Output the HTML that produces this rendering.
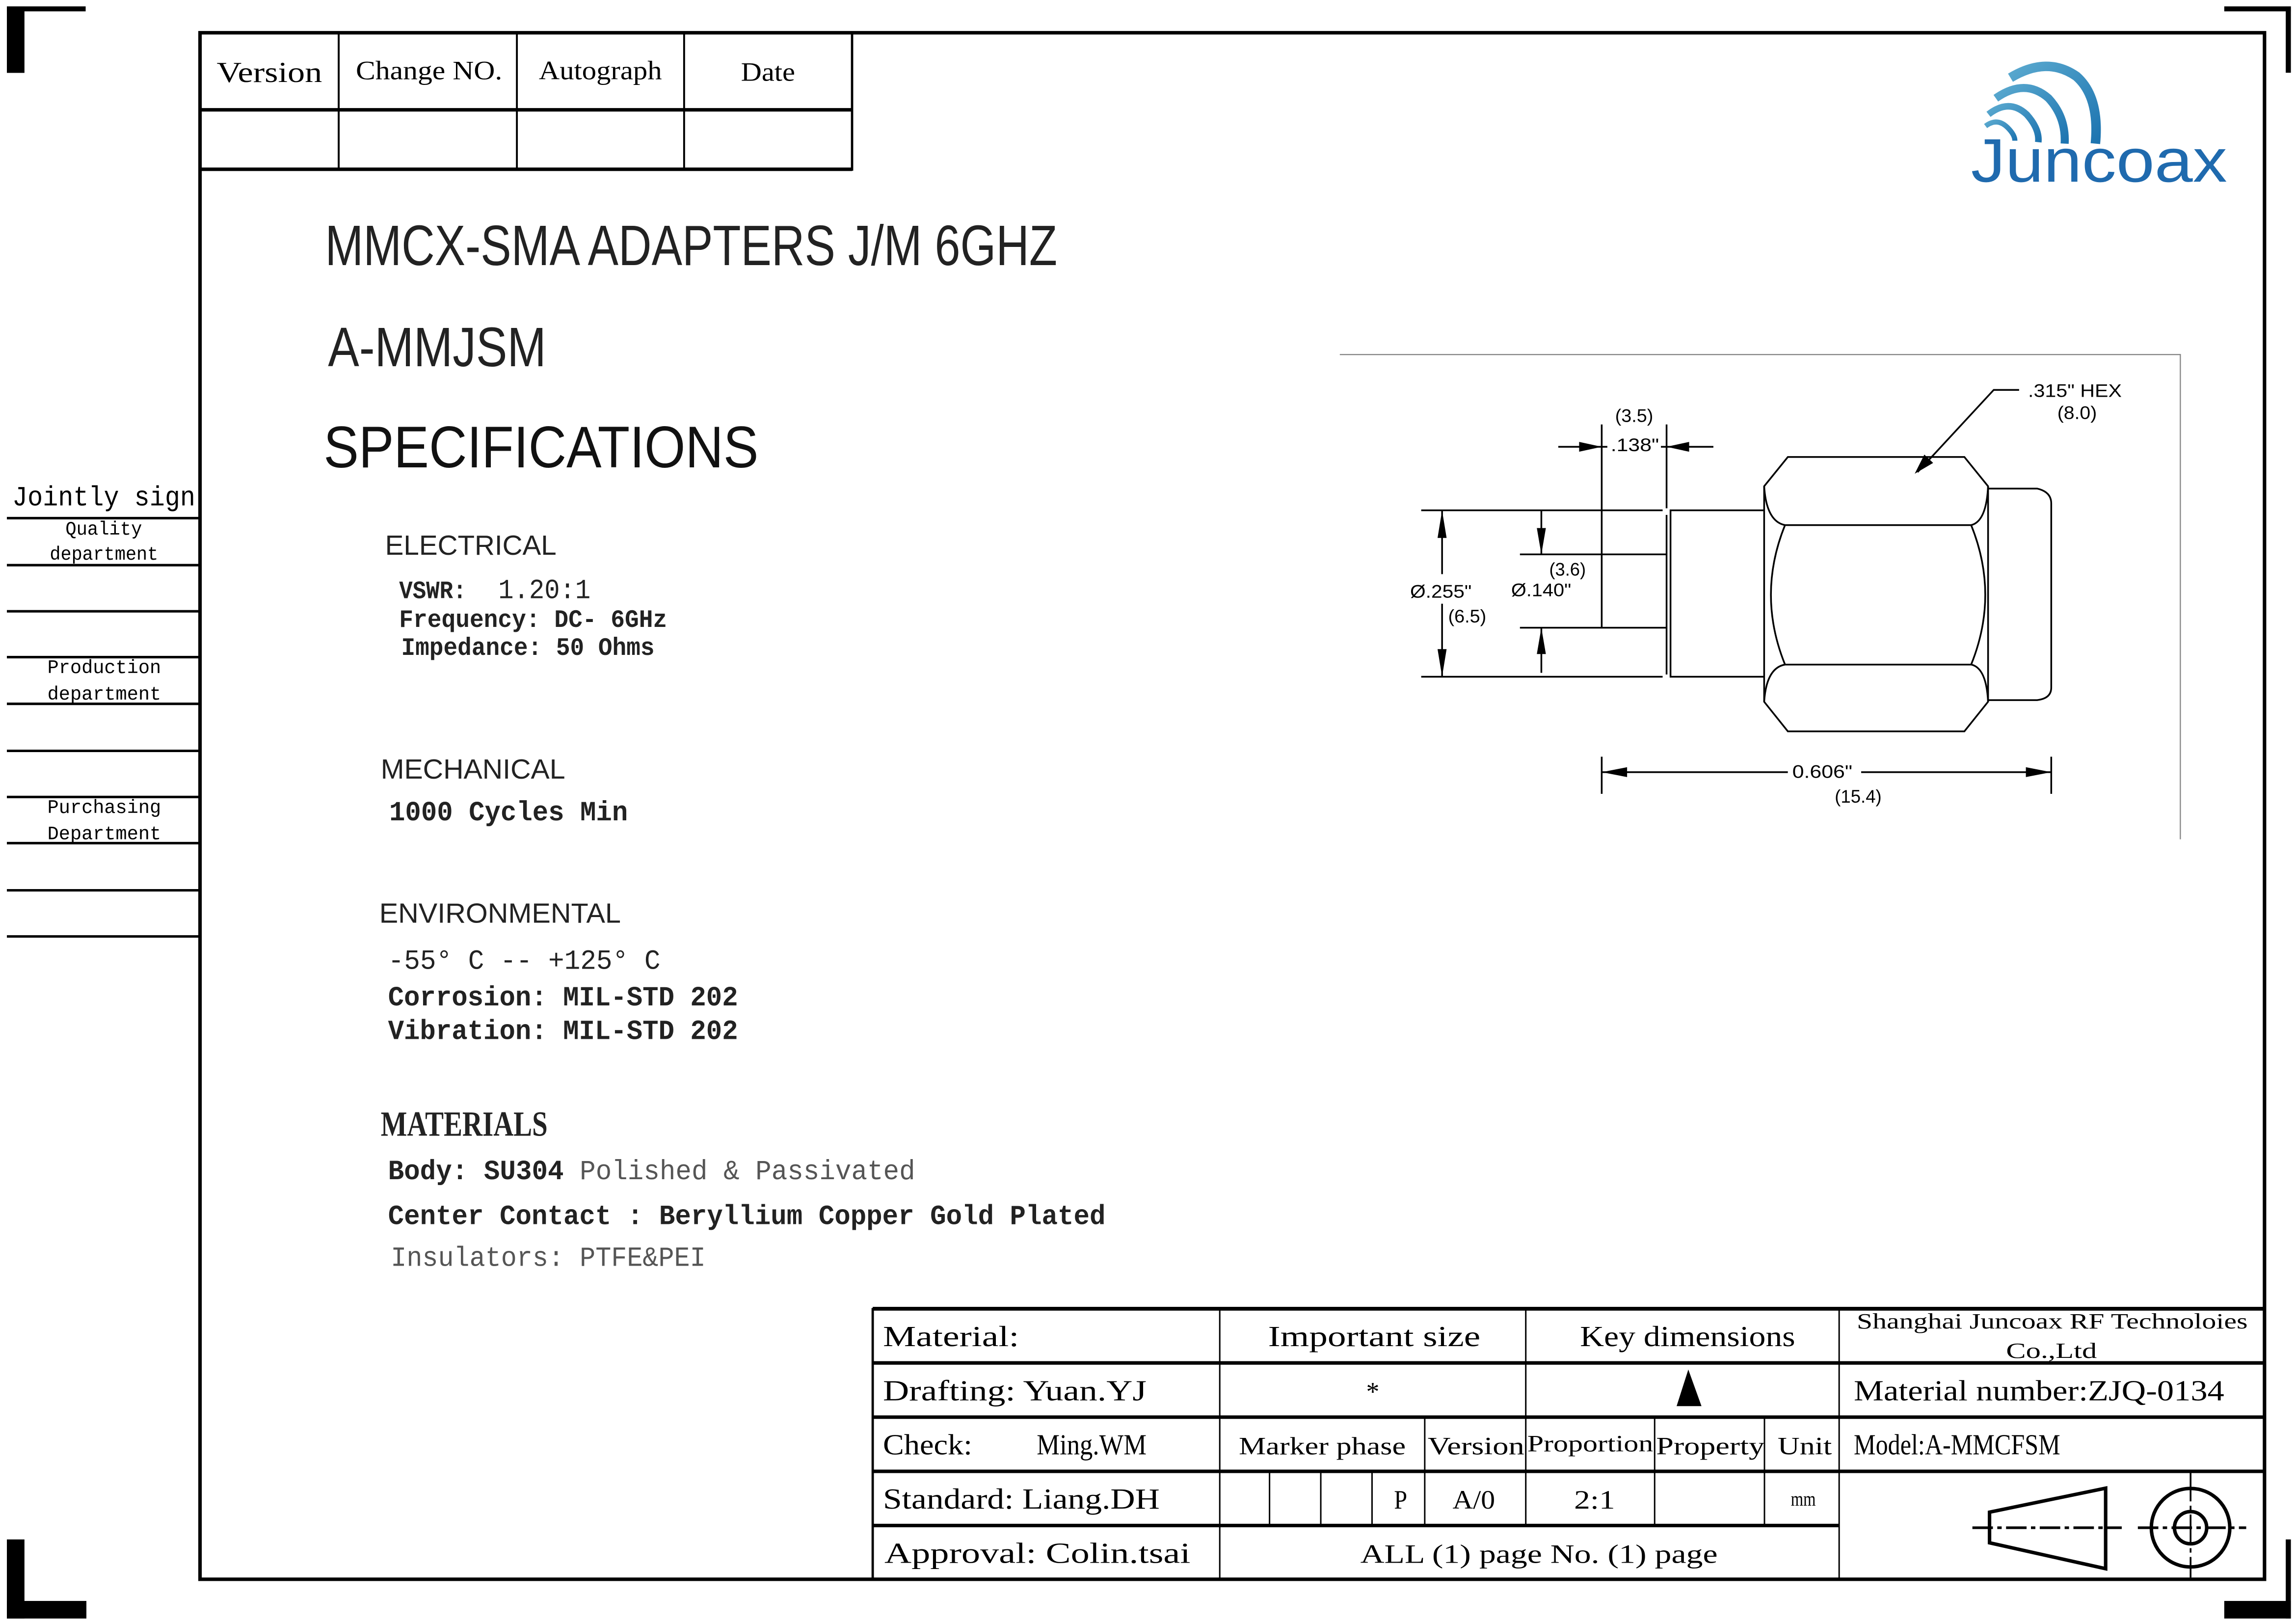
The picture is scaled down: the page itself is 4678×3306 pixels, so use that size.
<!DOCTYPE html>
<html><head><meta charset="utf-8"><style>
html,body{margin:0;padding:0;background:#fff;}
svg{display:block;}
.s{font-family:"Liberation Sans",sans-serif;}
.m{font-family:"Liberation Mono",monospace;}
.r{font-family:"Liberation Serif",serif;}
</style></head><body>
<svg width="4678" height="3306" viewBox="0 0 1568 1108" xmlns="http://www.w3.org/2000/svg">
<rect x="0" y="0" width="1568" height="1108" fill="#fff"/>
<rect x="4.7" y="4.3" width="12" height="45.4" fill="#000"/>
<rect x="4.7" y="4.3" width="53.8" height="3.4" fill="#000"/>
<rect x="1519" y="4.3" width="45.5" height="3.4" fill="#000"/>
<rect x="1561" y="4.3" width="3.5" height="45.3" fill="#000"/>
<rect x="4.7" y="1051" width="12" height="54" fill="#000"/>
<rect x="4.7" y="1093" width="54.3" height="12" fill="#000"/>
<rect x="1561" y="1051" width="3.5" height="54" fill="#000"/>
<rect x="1519" y="1093" width="45.5" height="12" fill="#000"/>
<rect x="136.6" y="22.3" width="1409.9" height="1055.9" fill="none" stroke="#000" stroke-width="2.4"/>
<g stroke="#000">
<line x1="136.6" y1="74.9" x2="582" y2="74.9" stroke-width="2.4"/>
<line x1="136.6" y1="115.5" x2="582" y2="115.5" stroke-width="2.4"/>
<line x1="231.3" y1="22" x2="231.3" y2="115.5" stroke-width="1.3"/>
<line x1="353" y1="22" x2="353" y2="115.5" stroke-width="1.3"/>
<line x1="467.2" y1="22" x2="467.2" y2="115.5" stroke-width="1.3"/>
<line x1="581.9" y1="22" x2="581.9" y2="116.5" stroke-width="1.6"/>
</g>
<g class="r" fill="#000">
<text x="148" y="56" font-size="20" textLength="72" lengthAdjust="spacingAndGlyphs">Version</text>
<text x="243" y="54" font-size="18" textLength="100" lengthAdjust="spacingAndGlyphs">Change    NO.</text>
<text x="368" y="54" font-size="18" textLength="84" lengthAdjust="spacingAndGlyphs">Autograph</text>
<text x="506" y="55" font-size="18" textLength="37" lengthAdjust="spacingAndGlyphs">Date</text>
</g>
<g stroke="#000" stroke-width="1.7">
<line x1="4.7" y1="353.7" x2="137" y2="353.7"/><line x1="4.7" y1="385.8" x2="137" y2="385.8"/>
<line x1="4.7" y1="417.3" x2="137" y2="417.3"/><line x1="4.7" y1="448.6" x2="137" y2="448.6"/>
<line x1="4.7" y1="480.5" x2="137" y2="480.5"/><line x1="4.7" y1="512.6" x2="137" y2="512.6"/>
<line x1="4.7" y1="544.1" x2="137" y2="544.1"/><line x1="4.7" y1="575.6" x2="137" y2="575.6"/>
<line x1="4.7" y1="607.8" x2="137" y2="607.8"/><line x1="4.7" y1="639.3" x2="137" y2="639.3"/>
</g>
<g class="m" fill="#000">
<text x="8.4" y="345" font-size="19" textLength="125" lengthAdjust="spacingAndGlyphs">Jointly sign</text>
<g font-size="13">
<text x="44.7" y="365" textLength="52.3" lengthAdjust="spacingAndGlyphs">Quality</text>
<text x="34" y="382" textLength="74" lengthAdjust="spacingAndGlyphs">department</text>
<text x="32.4" y="459.5" textLength="77.6" lengthAdjust="spacingAndGlyphs">Production</text>
<text x="32.4" y="477.5" textLength="77.6" lengthAdjust="spacingAndGlyphs">department</text>
<text x="32.4" y="555" textLength="77.6" lengthAdjust="spacingAndGlyphs">Purchasing</text>
<text x="32.4" y="573" textLength="77.6" lengthAdjust="spacingAndGlyphs">Department</text>
</g></g>
<defs><linearGradient id="lg" x1="0" y1="0" x2="1" y2="1"><stop offset="0" stop-color="#5aa9cf"/><stop offset="1" stop-color="#1d74b0"/></linearGradient></defs>
<g fill="none" stroke="url(#lg)" stroke-linecap="butt">
<path d="M1373,53 Q1398,38 1418,52 Q1434,66 1431,98" stroke-width="6.5"/>
<path d="M1363,67 Q1383,53 1399,67 Q1411,80 1410,98" stroke-width="5.5"/>
<path d="M1358,78 Q1372,67 1384,78 Q1393,88 1392,97" stroke-width="4.5"/>
<path d="M1356,86 Q1364,80 1371,87 Q1376,92 1376,96" stroke-width="3.5"/>
</g>
<text x="1346" y="124" class="s" font-size="42" fill="#1f6aae" textLength="175" lengthAdjust="spacingAndGlyphs">Juncoax</text>
<g class="s" fill="#222">
<text x="222" y="181" font-size="39" textLength="500" lengthAdjust="spacingAndGlyphs">MMCX-SMA ADAPTERS  J/M 6GHZ</text>
<text x="224" y="250" font-size="38" textLength="149" lengthAdjust="spacingAndGlyphs">A-MMJSM</text>
<text x="221" y="319" font-size="40" fill="#111" textLength="297" lengthAdjust="spacingAndGlyphs">SPECIFICATIONS</text>
<g font-size="19">
<text x="263" y="378.7" textLength="117" lengthAdjust="spacingAndGlyphs">ELECTRICAL</text>
<text x="260" y="531.5" textLength="126" lengthAdjust="spacingAndGlyphs">MECHANICAL</text>
<text x="259" y="630" textLength="165" lengthAdjust="spacingAndGlyphs">ENVIRONMENTAL</text>
</g></g>
<g class="m" fill="#222" font-weight="bold">
<text x="272.6" y="408.3" font-size="17" textLength="46" lengthAdjust="spacingAndGlyphs">VSWR:</text>
<text x="340.3" y="408.3" font-size="19" font-weight="normal" textLength="63" lengthAdjust="spacingAndGlyphs">1.20:1</text>
<text x="272.6" y="428" font-size="17" textLength="183" lengthAdjust="spacingAndGlyphs">Frequency: DC- 6GHz</text>
<text x="274" y="447" font-size="17" textLength="173" lengthAdjust="spacingAndGlyphs">Impedance: 50 Ohms</text>
<text x="265.8" y="560" font-size="19" textLength="163" lengthAdjust="spacingAndGlyphs">1000 Cycles Min</text>
<text x="265" y="661.5" font-size="19" font-weight="normal" textLength="186" lengthAdjust="spacingAndGlyphs">-55° C -- +125° C</text>
<text x="265" y="686.4" font-size="19" textLength="239" lengthAdjust="spacingAndGlyphs">Corrosion: MIL-STD 202</text>
<text x="265" y="709.4" font-size="19" textLength="239" lengthAdjust="spacingAndGlyphs">Vibration: MIL-STD 202</text>
<text x="265" y="805" font-size="19" textLength="360" lengthAdjust="spacingAndGlyphs">Body: SU304 <tspan fill="#555" font-weight="normal">Polished &amp; Passivated</tspan></text>
<text x="265" y="835.7" font-size="19" textLength="490" lengthAdjust="spacingAndGlyphs">Center Contact : Beryllium Copper Gold Plated</text>
<text x="266.9" y="864.2" font-size="19" fill="#555" font-weight="normal" textLength="215" lengthAdjust="spacingAndGlyphs">Insulators: PTFE&amp;PEI</text>
</g>
<text x="260" y="775.4" class="r" font-size="24" font-weight="bold" fill="#222" textLength="114" lengthAdjust="spacingAndGlyphs">MATERIALS</text>
<path d="M915,242 L1489,242 L1489,573" fill="none" stroke="#888" stroke-width="0.8"/>
<g transform="translate(905.1,234.7) scale(0.3852,0.2246)" fill="none" stroke="#000" stroke-width="3.5">
<path vector-effect="non-scaling-stroke" d="M778,433 L820,344 L1133,344 L1175,433 L1175,1088 L1133,1178 L820,1178 L778,1088 Z"/>
<path vector-effect="non-scaling-stroke" d="M778,433 Q782,540 815,551 L1145,551 Q1172,540 1175,433"/>
<path vector-effect="non-scaling-stroke" d="M815,551 Q765,763 815,975 M1145,551 Q1195,763 1145,975"/>
<path vector-effect="non-scaling-stroke" d="M778,1088 Q782,985 815,975 L1145,975 Q1172,985 1175,1088"/>
<path vector-effect="non-scaling-stroke" d="M1175,440 L1262,440 Q1287,450 1287,485 L1287,1045 Q1287,1078 1262,1083 L1175,1083"/>
<path vector-effect="non-scaling-stroke" d="M778,506 L612,506 L612,1012 L778,1012"/>
<path vector-effect="non-scaling-stroke" d="M605,245 L605,500 M605,520 L605,1005"/>
<path vector-effect="non-scaling-stroke" d="M490,245 L490,863 L345,863 M490,640 L345,640 M490,640 L605,640 M490,863 L605,863"/>
<path vector-effect="non-scaling-stroke" d="M170,506 L598,506 M170,1012 L598,1012"/>
<path vector-effect="non-scaling-stroke" d="M207,506 L207,700 M207,790 L207,1012 M383,506 L383,640 M383,863 L383,1000"/>
<path vector-effect="non-scaling-stroke" d="M413,313 L500,313 M595,313 L688,313"/>
<path vector-effect="non-scaling-stroke" d="M490,1302 L820,1302 M950,1302 L1287,1302 M490,1255 L490,1368 M1287,1255 L1287,1368"/>
<path vector-effect="non-scaling-stroke" d="M1230,140 L1185,140 L1050,390"/>
<g fill="#000" stroke="none">
<polygon points="207,506 199,590 215,590"/><polygon points="207,1012 199,928 215,928"/>
<polygon points="383,640 375,560 391,560"/><polygon points="383,863 375,943 391,943"/>
<polygon points="490,313 450,298 450,328"/><polygon points="605,313 645,298 645,328"/>
<polygon points="490,1302 535,1287 535,1317"/><polygon points="1287,1302 1242,1287 1242,1317"/>
</g>
</g>
<polygon points="1307.6,323.4 1320.2,316 1314.2,310.3" fill="#000"/>
<g class="s" fill="#000" font-size="12.5">
<text x="1385" y="271" textLength="64" lengthAdjust="spacingAndGlyphs">.315" HEX</text>
<text x="1405" y="286" textLength="27" lengthAdjust="spacingAndGlyphs">(8.0)</text>
<text x="1103" y="288" textLength="26" lengthAdjust="spacingAndGlyphs">(3.5)</text>
<text x="1100" y="308" textLength="33" lengthAdjust="spacingAndGlyphs">.138"</text>
<text x="1058" y="393" textLength="25" lengthAdjust="spacingAndGlyphs">(3.6)</text>
<text x="1032" y="407" textLength="41" lengthAdjust="spacingAndGlyphs">Ø.140"</text>
<text x="963" y="408" textLength="42" lengthAdjust="spacingAndGlyphs">Ø.255"</text>
<text x="989" y="425" textLength="26" lengthAdjust="spacingAndGlyphs">(6.5)</text>
<text x="1224" y="531" textLength="41" lengthAdjust="spacingAndGlyphs">0.606"</text>
<text x="1253" y="548" textLength="32" lengthAdjust="spacingAndGlyphs">(15.4)</text>
</g>
<g stroke="#000">
<line x1="596" y1="893.5" x2="1546.5" y2="893.5" stroke-width="2.6"/>
<line x1="596" y1="930.5" x2="1546.5" y2="930.5" stroke-width="2.4"/>
<line x1="596" y1="967.5" x2="1546.5" y2="967.5" stroke-width="2.4"/>
<line x1="596" y1="1004.5" x2="1546.5" y2="1004.5" stroke-width="2.4"/>
<line x1="596" y1="1041.5" x2="1256" y2="1041.5" stroke-width="2.4"/>
<line x1="596" y1="893" x2="596" y2="1078" stroke-width="1.6"/>
<line x1="833" y1="893" x2="833" y2="1078" stroke-width="1"/>
<line x1="1042" y1="893" x2="1042" y2="1041" stroke-width="1"/>
<line x1="1256" y1="893" x2="1256" y2="1078" stroke-width="1"/>
<line x1="973" y1="967" x2="973" y2="1041" stroke-width="1"/>
<line x1="1130" y1="967" x2="1130" y2="1041" stroke-width="1"/>
<line x1="1205" y1="967" x2="1205" y2="1041" stroke-width="1"/>
<line x1="867" y1="1004" x2="867" y2="1041" stroke-width="1"/>
<line x1="902" y1="1004" x2="902" y2="1041" stroke-width="1"/>
<line x1="937" y1="1004" x2="937" y2="1041" stroke-width="1"/>
</g>
<g class="r" fill="#000" font-size="20">
<text x="603" y="919" textLength="93" lengthAdjust="spacingAndGlyphs">Material:</text>
<text x="866" y="919" textLength="145" lengthAdjust="spacingAndGlyphs">Important size</text>
<text x="1079" y="919" textLength="147" lengthAdjust="spacingAndGlyphs">Key dimensions</text>
<text x="1268" y="907" font-size="15" textLength="267" lengthAdjust="spacingAndGlyphs">Shanghai Juncoax RF Technoloies</text>
<text x="1370" y="927" font-size="15" textLength="62" lengthAdjust="spacingAndGlyphs">Co.,Ltd</text>
<text x="603" y="956" textLength="180" lengthAdjust="spacingAndGlyphs">Drafting: Yuan.YJ</text>
<text x="933" y="956" font-size="18">*</text>
<text x="1266" y="956" textLength="253" lengthAdjust="spacingAndGlyphs">Material number:ZJQ-0134</text>
<text x="603" y="993" textLength="61" lengthAdjust="spacingAndGlyphs">Check:</text>
<text x="708" y="993" textLength="75" lengthAdjust="spacingAndGlyphs">Ming.WM</text>
<text x="846" y="993" font-size="17" textLength="114" lengthAdjust="spacingAndGlyphs">Marker phase</text>
<text x="975" y="993" font-size="17" textLength="66" lengthAdjust="spacingAndGlyphs">Version</text>
<text x="1043" y="991" font-size="16" textLength="86" lengthAdjust="spacingAndGlyphs">Proportion</text>
<text x="1131" y="993" font-size="17" textLength="74" lengthAdjust="spacingAndGlyphs">Property</text>
<text x="1214" y="993" font-size="17" textLength="37" lengthAdjust="spacingAndGlyphs">Unit</text>
<text x="1266" y="993" textLength="141" lengthAdjust="spacingAndGlyphs">Model:A-MMCFSM</text>
<text x="603" y="1030" textLength="189" lengthAdjust="spacingAndGlyphs">Standard: Liang.DH</text>
<text x="952" y="1030" font-size="18" textLength="9" lengthAdjust="spacingAndGlyphs">P</text>
<text x="992" y="1030" font-size="18" textLength="29" lengthAdjust="spacingAndGlyphs">A/0</text>
<text x="1075" y="1030" font-size="18" textLength="28" lengthAdjust="spacingAndGlyphs">2:1</text>
<text x="1223" y="1028" font-size="14" textLength="17" lengthAdjust="spacingAndGlyphs">mm</text>
<text x="604" y="1067" textLength="209" lengthAdjust="spacingAndGlyphs">Approval: Colin.tsai</text>
<text x="929" y="1067" font-size="18" textLength="244" lengthAdjust="spacingAndGlyphs">ALL (1) page   No. (1) page</text>
</g>
<polygon points="1153,935 1145,960 1162,960" fill="#000"/>
<g fill="none" stroke="#000" stroke-width="2.4">
<path d="M1358.7,1032.4 L1438,1016 L1438,1071 L1358.7,1053.3 Z"/>
<circle cx="1496" cy="1043" r="26.8"/>
<circle cx="1496" cy="1043" r="11"/>
</g>
<g stroke="#000" stroke-width="1.8">
<line x1="1347" y1="1043" x2="1449" y2="1043" stroke-dasharray="14,3,3,3"/>
<line x1="1460" y1="1043" x2="1534" y2="1043" stroke-dasharray="14,3,3,3"/>
<line x1="1496" y1="1005" x2="1496" y2="1077" stroke-width="1.2" stroke-dasharray="20,3,3,3"/>
</g>
</svg>
</body></html>
